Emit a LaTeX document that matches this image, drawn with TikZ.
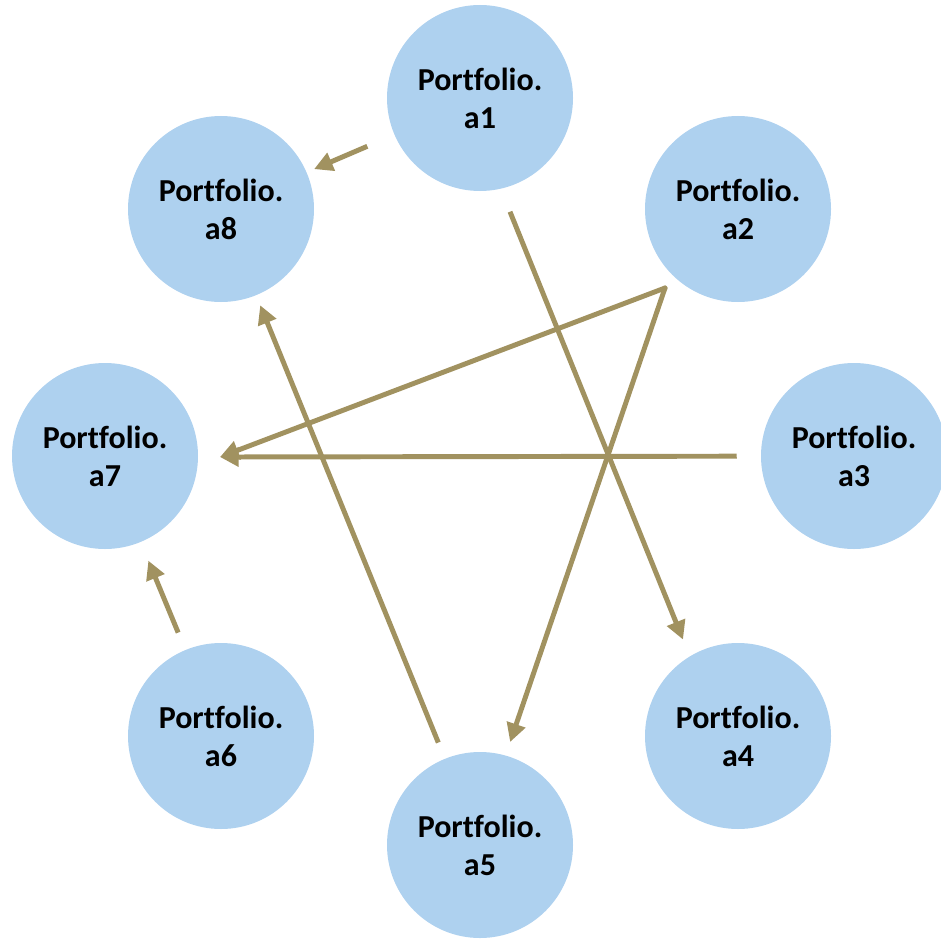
\documentclass[tikz,border=0pt]{standalone}
\usepackage{fontspec}
\setmainfont{Carlito}[Ligatures=CommonOff]
\usepackage{xcolor}
\usepackage{tikz}
\usetikzlibrary{arrows.meta}

\definecolor{nodeblue}{RGB}{174,209,239}
\definecolor{linktan}{RGB}{161,146,96}

\begin{document}
\begin{tikzpicture}[x=0.75pt, y=-0.75pt,
    portfolio/.style={circle, fill=nodeblue, minimum size=139.5pt, inner sep=0pt,
      align=center, font=\fontsize{24}{28.5}\selectfont\bfseries},
    link/.style={draw=linktan, line width=3.7pt, -{Triangle[length=14pt, width=14pt]}}]
      \useasboundingbox (0,0) rectangle (941,938);

      % portfolios around the ring
      \node[portfolio] (a1) at (480,98) {Portfolio.\\a1};
      \node[portfolio] (a2) at (738,209) {Portfolio.\\a2};
      \node[portfolio] (a3) at (854,456) {Portfolio.\\a3};
      \node[portfolio] (a4) at (738,736) {Portfolio.\\a4};
      \node[portfolio] (a5) at (480,845) {Portfolio.\\a5};
      \node[portfolio] (a6) at (221,736) {Portfolio.\\a6};
      \node[portfolio] (a7) at (105,456) {Portfolio.\\a7};
      \node[portfolio] (a8) at (221,209) {Portfolio.\\a8};

      \coordinate (a2out) at (665,288);
      \coordinate (a7in) at (220,457);

      % links
      \draw[link, shorten <=22pt, shorten >=6pt] (a1) -- (a8);
      \draw[link, shorten <=92pt, shorten >=78pt] ([xshift=-12pt]a1.center) -- ([xshift=-12pt]a4.center);
      \draw[link, line cap=round] (a2out) -- (a7in);
      \draw[link, line cap=round, shorten >=81.6pt] (a2out) -- ([xshift=-3.75pt]a5.center);
      \draw[link, shorten <=18pt] (a3) -- (a7in);
      \draw[link, shorten <=13pt, shorten >=8pt] (a5) -- (a8);
      \draw[link, shorten <=14pt, shorten >=15pt] (a6) -- (a7);
    \end{tikzpicture}
\end{document}
